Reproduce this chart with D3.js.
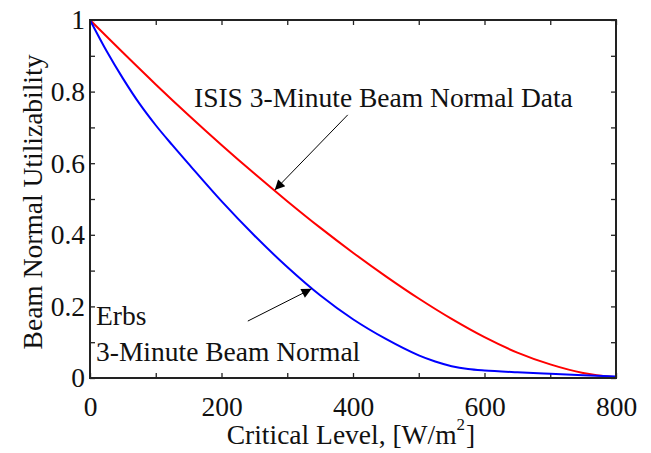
<!DOCTYPE html>
<html>
<head>
<meta charset="utf-8">
<script src="https://cdn.jsdelivr.net/npm/d3@7"></script>
<style>
  html, body { margin: 0; padding: 0; background: #fff; }
</style>
</head>
<body>
<svg id="chart" width="651" height="453"></svg>
<script>
// Critical level grid [W/m^2]
const isisLevels = [0, 50, 100, 150, 200, 250, 300, 350, 400, 450, 500, 550, 600, 650, 700, 750, 800];
// ISIS 3-minute beam normal utilizability
const isisValues = [1.0, 0.909, 0.820, 0.734, 0.651, 0.571, 0.494, 0.420, 0.350, 0.284, 0.222, 0.165, 0.114, 0.071, 0.038, 0.014, 0.002];

const erbsLevels = [0, 25, 50, 75, 100, 125, 150, 200, 250, 300, 350, 400, 450, 500, 525, 550, 575, 600, 650, 700, 750, 800];
// Erbs 3-minute beam normal utilizability
const erbsValues = [1.0, 0.914, 0.837, 0.767, 0.706, 0.651, 0.598, 0.494, 0.398, 0.310, 0.231, 0.164, 0.109, 0.063, 0.046, 0.033, 0.025, 0.021, 0.016, 0.012, 0.008, 0.004];

const xTicks = [0, 100, 200, 300, 400, 500, 600, 700, 800];
const xTickLabels = [0, 200, 400, 600, 800];
const yTicks = [0, 0.1, 0.2, 0.3, 0.4, 0.5, 0.6, 0.7, 0.8, 0.9, 1.0];
const yTickLabels = [0, 0.2, 0.4, 0.6, 0.8, 1.0];

// Annotation arrows: [fromX, fromY, toX, toY] in data units
const isisArrow = [392, 0.735, 281, 0.525];
const erbsArrow = [240, 0.159, 337, 0.249];

const W = 651, H = 453;
const m = { left: 90, top: 20, right: 35, bottom: 75 };
const iw = W - m.left - m.right, ih = H - m.top - m.bottom;
const FS = 27.5;
const SERIF = "Liberation Serif, Times New Roman, serif";

const svg = d3.select("#chart").attr("font-family", SERIF);
const defs = svg.append("defs");
defs.append("marker")
  .attr("id", "head")
  .attr("viewBox", "0 0 10 10")
  .attr("refX", 10).attr("refY", 5)
  .attr("markerUnits", "userSpaceOnUse")
  .attr("markerWidth", 13).attr("markerHeight", 10)
  .attr("orient", "auto")
  .append("path").attr("d", "M0,0 L10,5 L0,10 Z").attr("fill", "#000");

const g = svg.append("g").attr("transform", `translate(${m.left},${m.top})`);

const x = d3.scaleLinear().domain([0, 800]).range([0, iw]);
const y = d3.scaleLinear().domain([0, 1]).range([ih, 0]);

const fmt = d3.format("~g");
const labelX = d => xTickLabels.includes(d) ? fmt(d) : "";
const labelY = d => yTickLabels.some(v => Math.abs(v - d) < 1e-9) ? fmt(d) : "";

function styleAxis(sel) {
  sel.attr("font-family", SERIF).attr("font-size", FS);
  sel.select(".domain").remove();
  sel.selectAll(".tick line").attr("stroke", "#222").attr("stroke-width", 1.3);
  sel.selectAll(".tick text").attr("fill", "#111");
}

g.append("g").attr("transform", `translate(0,${ih})`)
  .call(d3.axisBottom(x).tickValues(xTicks).tickFormat(labelX).tickSize(-5).tickPadding(18))
  .call(styleAxis);
g.append("g")
  .call(d3.axisTop(x).tickValues(xTicks).tickFormat("").tickSize(-5))
  .call(styleAxis);
g.append("g")
  .call(d3.axisLeft(y).tickValues(yTicks).tickFormat(labelY).tickSize(-5).tickPadding(5))
  .call(styleAxis);
g.append("g").attr("transform", `translate(${iw},0)`)
  .call(d3.axisRight(y).tickValues(yTicks).tickFormat("").tickSize(-5))
  .call(styleAxis);

// Curves
const line = d3.line().x(d => x(d[0])).y(d => y(d[1])).curve(d3.curveCatmullRom.alpha(0.5));
g.append("path").datum(d3.zip(isisLevels, isisValues))
  .attr("d", line).attr("fill", "none").attr("stroke", "#ff0000").attr("stroke-width", 2);
g.append("path").datum(d3.zip(erbsLevels, erbsValues))
  .attr("d", line).attr("fill", "none").attr("stroke", "#0000ff").attr("stroke-width", 2);

// Frame
g.append("rect").attr("x", 0).attr("y", 0).attr("width", iw).attr("height", ih)
  .attr("fill", "none").attr("stroke", "#222").attr("stroke-width", 2);

// Annotations
[isisArrow, erbsArrow].forEach(a => {
  g.append("line")
    .attr("x1", x(a[0])).attr("y1", y(a[1]))
    .attr("x2", x(a[2])).attr("y2", y(a[3]))
    .attr("stroke", "#000").attr("stroke-width", 1)
    .attr("marker-end", "url(#head)");
});

function label(px, py, str) {
  return svg.append("text").attr("x", px).attr("y", py)
    .attr("font-size", FS).attr("fill", "#111").text(str);
}
label(194, 106.5, "ISIS 3-Minute Beam Normal Data");
label(96, 325, "Erbs");
label(96, 360.5, "3-Minute Beam Normal");

// Axis titles
const xt = svg.append("text").attr("x", m.left + iw / 2 - 2).attr("y", 443.5)
  .attr("text-anchor", "middle").attr("font-size", FS).attr("fill", "#111");
xt.append("tspan").text("Critical Level, [W/m");
xt.append("tspan").attr("font-size", FS * 0.62).attr("dy", -14).text("2");
xt.append("tspan").attr("dy", 14).attr("dx", 1).text("]");

svg.append("text")
  .attr("transform", `translate(42,${m.top + ih / 2 + 3}) rotate(-90)`)
  .attr("text-anchor", "middle").attr("font-size", FS).attr("fill", "#111")
  .text("Beam Normal Utilizability");
</script>
</body>
</html>
